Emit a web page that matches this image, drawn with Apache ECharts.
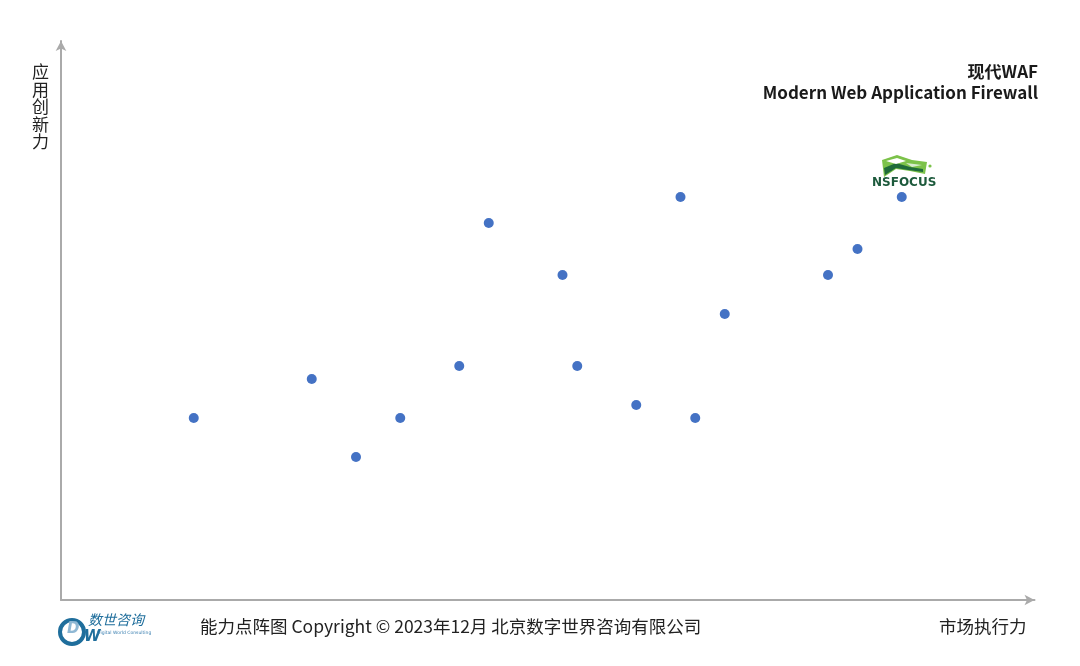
<!DOCTYPE html>
<html><head><meta charset="utf-8">
<script src="https://cdn.jsdelivr.net/npm/echarts@6/dist/echarts.min.js"></script>
<style>html,body{margin:0;padding:0;background:#fff}#c{width:1080px;height:666px}</style>
</head><body><div id="c"></div>
<script>
// Market execution (x) and application innovation (y) for each vendor dot
var marketExecution = [9, 17, 20, 23, 27, 29, 34, 35, 39, 42, 43, 45, 52, 54, 57];
var appInnovation   = [14, 17, 11, 14, 18, 29, 25, 18, 15, 31, 14, 22, 25, 27, 31];
var xMax = 66, yMax = 43;

var points = marketExecution.map(function (x, i) { return [x, appInnovation[i]]; });
var chart = echarts.init(document.getElementById('c'));
var cjk = '"Noto Sans CJK SC","Noto Sans",sans-serif';
chart.setOption({
  animation: false,
  backgroundColor: '#ffffff',
  grid: { left: 61, right: 45.5, top: 41, bottom: 66 },
  xAxis: {
    type: 'value', min: 0, max: xMax,
    axisLine: { show: true, symbol: ['none', 'arrow'], symbolSize: [8, 10], symbolOffset: [0, 0],
      lineStyle: { color: '#aaaaaa', width: 2 } },
    axisTick: { show: false }, axisLabel: { show: false }, splitLine: { show: false }
  },
  yAxis: {
    type: 'value', min: 0, max: yMax,
    axisLine: { show: true, symbol: ['none', 'arrow'], symbolSize: [8, 10], symbolOffset: [0, 0],
      lineStyle: { color: '#aaaaaa', width: 2 } },
    axisTick: { show: false }, axisLabel: { show: false }, splitLine: { show: false }
  },
  series: [{
    type: 'scatter', data: points, symbolSize: 10,
    itemStyle: { color: '#4472C4', opacity: 1 }
  }],
  graphic: [
    { type: 'text', right: 42, top: 63, style: { text: '现代WAF', font: 'bold 17px ' + cjk, fill: '#1a1a1a', textAlign: 'right' } },
    { type: 'text', right: 42, top: 84, style: { text: 'Modern Web Application Firewall', font: 'bold 17px ' + cjk, fill: '#1a1a1a', textAlign: 'right' } },
    { type: 'text', left: 32, top: 63, style: { text: '应\n用\n创\n新\n力', font: '17px ' + cjk, lineHeight: 17.5, fill: '#222' } },
    { type: 'text', left: 939, top: 618, style: { text: '市场执行力', font: '17.5px ' + cjk, fill: '#222' } },
    { type: 'text', left: 200, top: 618, style: { text: '能力点阵图 Copyright © 2023年12月 北京数字世界咨询有限公司', font: '17.5px ' + cjk, fill: '#222' } },
    // NSFOCUS logo
    { type: 'polygon', shape: { points: [[882,160],[897,155],[912,160],[927,162],[925,174],[910,171],[896,169],[884,177]] }, style: { fill: '#7cc24a' } },
    { type: 'polygon', shape: { points: [[884,168],[896,163],[910,167],[923,169],[923,172],[908,170],[896,168],[885,175]] }, style: { fill: '#1f6b3a' } },
    { type: 'polygon', shape: { points: [[886,161],[897,158],[906,161],[896,164]] }, style: { fill: '#ffffff' } },
    { type: 'polygon', shape: { points: [[906,163],[914,164],[922,165],[912,167]] }, style: { fill: '#d8ecd0' } },
    { type: 'circle', shape: { cx: 930, cy: 166, r: 1.6 }, style: { fill: '#7cc24a' } },
    { type: 'text', left: 872, top: 177, style: { text: 'NSFOCUS', font: 'bold 12px "DejaVu Sans",sans-serif', fill: '#1d5a3c' } },
    // bottom-left logo
    { type: 'circle', shape: { cx: 72, cy: 632, r: 12 }, style: { fill: 'none', stroke: '#1f6e9c', lineWidth: 4 } },
    { type: 'text', left: 67, top: 622, style: { text: 'D', font: 'italic bold 15px "DejaVu Sans",sans-serif', fill: '#8fb8d4' } },
    { type: 'text', left: 84, top: 630, style: { text: 'W', font: 'italic bold 15px "DejaVu Sans",sans-serif', fill: '#1f6e9c' } },
    { type: 'text', left: 88, top: 613, style: { text: '数世咨询', font: 'italic 14px ' + cjk, fill: '#1f6e9c' } },
    { type: 'text', left: 97, top: 630, style: { text: 'Digital World Consulting', font: '4.5px "DejaVu Sans",sans-serif', fill: '#3a7fb0' } }
  ]
});
</script></body></html>
